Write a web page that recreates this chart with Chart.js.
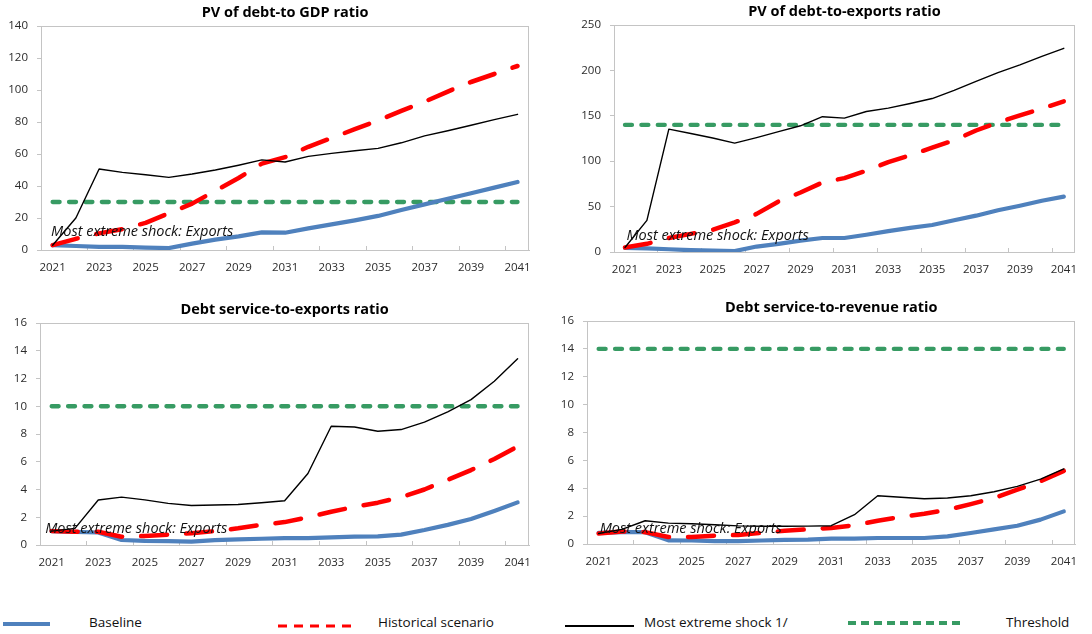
<!DOCTYPE html>
<html>
<head>
<meta charset="utf-8">
<script src="https://cdn.jsdelivr.net/npm/chart.js@4.4.1/dist/chart.umd.min.js"></script>
<style>
  html, body { margin: 0; padding: 0; background: #ffffff; }
  body { width: 1092px; height: 634px; position: relative; overflow: hidden; font-family: "Open Sans", "Noto Sans", sans-serif; }
  canvas { position: absolute; }
  #legend { position: absolute; left: 0; top: 606px; width: 1092px; height: 28px; }
  #legend svg { position: absolute; left: 0; top: 0; }
  #legend span { position: absolute; top: 6px; font-size: 13.5px; line-height: 20px; color: #111; white-space: nowrap; }
</style>
</head>
<body>
<canvas id="pvGdp"></canvas>
<canvas id="pvExports"></canvas>
<canvas id="dsExports"></canvas>
<canvas id="dsRevenue"></canvas>

<div id="legend">
  <svg width="1092" height="28" viewBox="0 0 1092 28">
    <line x1="3" y1="18" x2="50" y2="18" stroke="#4f81bd" stroke-width="4"/>
    <line x1="278" y1="20" x2="351" y2="20" stroke="#ff0000" stroke-width="3" stroke-dasharray="9 7"/>
    <line x1="565" y1="20" x2="634" y2="20" stroke="#000000" stroke-width="2"/>
    <line x1="848" y1="17" x2="960" y2="17" stroke="#379b63" stroke-width="4" stroke-dasharray="8 5"/>
  </svg>
  <span style="left:89px">Baseline</span>
  <span style="left:378px">Historical scenario</span>
  <span style="left:644px">Most extreme shock 1/</span>
  <span style="left:1006px">Threshold</span>
</div>

<script>
// Projection years shared by all four panels
const years = ['2021','2022','2023','2024','2025','2026','2027','2028','2029','2030',
               '2031','2032','2033','2034','2035','2036','2037','2038','2039','2040','2041'];

// PV of debt-to GDP ratio
const gdpBaseline   = [3.0, 2.5, 2.0, 2.0, 1.5, 1.2, 4.0, 6.5, 8.5, 11.0, 10.8, 13.5, 16.0, 18.5, 21.3, 25.0, 28.5, 32.0, 35.5, 39.0, 42.5];
const gdpHistorical = [3.0, 7.0, 10.4, 13.0, 17.0, 23.0, 29.0, 37.0, 45.0, 54.0, 58.0, 64.5, 70.0, 75.5, 81.0, 87.0, 92.7, 99.0, 105.0, 110.0, 115.0];
const gdpShock      = [3.0, 20.0, 50.6, 48.5, 47.0, 45.4, 47.5, 50.0, 53.0, 56.3, 55.0, 58.5, 60.4, 62.0, 63.5, 67.0, 71.3, 74.5, 78.0, 81.5, 84.8];
const gdpThreshold  = 30;

// PV of debt-to-exports ratio
const expBaseline   = [4.5, 4.0, 3.0, 2.0, 1.5, 1.0, 6.0, 9.0, 12.5, 15.4, 15.4, 19.0, 23.0, 26.5, 29.7, 35.0, 40.0, 46.0, 51.0, 56.5, 61.0];
const expHistorical = [5.0, 9.0, 15.4, 20.0, 24.5, 32.6, 42.0, 55.7, 65.5, 76.6, 81.4, 89.5, 99.0, 106.5, 115.0, 123.0, 133.8, 142.6, 150.5, 158.0, 166.0];
const expShock      = [5.0, 34.8, 135.3, 130.5, 125.5, 119.9, 126.0, 132.5, 139.0, 149.0, 147.4, 154.7, 158.5, 163.5, 169.0, 178.0, 188.0, 197.5, 206.0, 215.5, 224.3];
const expThreshold  = 140;

// Debt service-to-exports ratio
const dsxBaseline   = [1.0, 0.95, 0.9, 0.36, 0.3, 0.28, 0.24, 0.35, 0.4, 0.45, 0.5, 0.5, 0.55, 0.6, 0.62, 0.75, 1.08, 1.45, 1.87, 2.45, 3.07];
const dsxHistorical = [1.0, 0.95, 0.95, 0.6, 0.65, 0.75, 0.85, 1.0, 1.2, 1.45, 1.65, 2.0, 2.4, 2.75, 3.05, 3.45, 4.0, 4.7, 5.4, 6.2, 7.1];
const dsxShock      = [1.0, 1.2, 3.24, 3.45, 3.25, 3.0, 2.85, 2.88, 2.92, 3.05, 3.19, 5.15, 8.56, 8.5, 8.2, 8.32, 8.85, 9.6, 10.48, 11.8, 13.43];
const dsxThreshold  = 10;

// Debt service-to-revenue ratio
const dsrBaseline   = [0.8, 0.85, 0.85, 0.26, 0.25, 0.2, 0.2, 0.25, 0.3, 0.32, 0.38, 0.38, 0.43, 0.43, 0.43, 0.55, 0.79, 1.05, 1.31, 1.75, 2.34];
const dsrHistorical = [0.75, 0.9, 0.85, 0.5, 0.5, 0.6, 0.65, 0.8, 0.95, 1.05, 1.15, 1.35, 1.67, 1.95, 2.17, 2.45, 2.86, 3.3, 3.9, 4.5, 5.25];
const dsrShock      = [0.75, 1.05, 1.67, 1.5, 1.45, 1.38, 1.3, 1.27, 1.27, 1.28, 1.31, 2.1, 3.46, 3.35, 3.25, 3.3, 3.46, 3.75, 4.13, 4.65, 5.39];
const dsrThreshold  = 14;

const noteText = 'Most extreme shock: Exports';

const FONT = '"Open Sans", "Noto Sans", sans-serif';
const AXIS_GREY = '#c4c4c4';
const LABEL_COLOUR = '#2b2b2b';
const BLUE = '#4f81bd', RED = '#ff0000', BLACK = '#000000', GREEN = '#379b63';

// Frame, title and shock note drawn on each panel
const panelDecor = {
  id: 'panelDecor',
  beforeDatasetsDraw(chart, args, opts) {
    const { ctx, chartArea: a } = chart;
    ctx.save();
    ctx.strokeStyle = AXIS_GREY;
    ctx.lineWidth = 1;
    ctx.strokeRect(Math.round(a.left) + 0.5, Math.round(a.top) + 0.5,
                   Math.round(a.right - a.left) - 1, Math.round(a.bottom - a.top));
    ctx.restore();
  },
  afterDatasetsDraw(chart, args, opts) {
    const { ctx, chartArea: a, scales } = chart;
    ctx.save();
    ctx.fillStyle = '#000';
    ctx.textAlign = 'center';
    ctx.textBaseline = 'middle';
    ctx.font = 'bold 14.5px ' + FONT;
    ctx.fillText(opts.title, (a.left + a.right) / 2, opts.titleY);
    ctx.fillStyle = '#111';
    ctx.textAlign = 'left';
    ctx.font = 'italic 14.5px ' + FONT;
    ctx.fillText(opts.note, scales.x.getPixelForValue(0) + opts.noteDx, scales.y.getPixelForValue(opts.noteY));
    ctx.restore();
  }
};

function makePanel(id, box, plot, title, titleY, series, threshold, yMax, yStep, noteY, noteDx) {
  const cv = document.getElementById(id);
  cv.width = box.w; cv.height = box.h;
  cv.style.left = box.x + 'px'; cv.style.top = box.y + 'px';
  cv.style.width = box.w + 'px'; cv.style.height = box.h + 'px';

  const line = (data, colour, width, dash, order) => ({
    data, borderColor: colour, backgroundColor: colour, borderWidth: width,
    borderDash: dash, borderCapStyle: 'round', borderJoinStyle: 'round',
    pointRadius: 0, pointHoverRadius: 0, tension: 0, fill: false, order
  });

  new Chart(cv, {
    type: 'line',
    data: {
      labels: years,
      datasets: [
        line(series[2], BLACK, 1.4, [], 0),
        line(series[1], RED, 4.5, [26, 19], 1),
        line(series[0], BLUE, 4.2, [], 2),
        line(years.map(() => threshold), GREEN, 4.3, [7, 9.4], 3)
      ]
    },
    options: {
      responsive: false,
      animation: false,
      events: [],
      layout: { padding: { top: plot.t - box.y, right: box.x + box.w - plot.r, left: 0, bottom: 0 } },
      plugins: {
        legend: { display: false },
        tooltip: { enabled: false },
        title: { display: false },
        panelDecor: { title, titleY: titleY - box.y, note: noteText, noteY, noteDx }
      },
      scales: {
        x: {
          type: 'category',
          offset: true,
          grid: {
            display: true, offset: true, drawOnChartArea: false, drawTicks: true, tickLength: -4,
            color: (c) => (c.index % 2 === 0 ? AXIS_GREY : 'rgba(0,0,0,0)')
          },
          border: { display: true, color: AXIS_GREY },
          ticks: {
            autoSkip: false, maxRotation: 0, minRotation: 0, padding: 15,
            color: LABEL_COLOUR, font: { family: FONT, size: 11.5 },
            callback: (v, i) => (i % 2 === 0 ? years[i] : '')
          },
          afterFit: (s) => { s.height = box.y + box.h - plot.b; }
        },
        y: {
          min: 0, max: yMax,
          grid: { display: true, drawOnChartArea: false, drawTicks: true, tickLength: 4, color: AXIS_GREY },
          border: { display: true, color: AXIS_GREY },
          ticks: { stepSize: yStep, padding: 9, color: LABEL_COLOUR, font: { family: FONT, size: 11.5 } },
          afterFit: (s) => { s.width = plot.l - box.x; }
        }
      }
    },
    plugins: [panelDecor]
  });
}

makePanel('pvGdp', { x: 0, y: 0, w: 546, h: 290 }, { l: 41, r: 533, t: 26, b: 250 },
  'PV of debt-to GDP ratio', 13, [gdpBaseline, gdpHistorical, gdpShock], gdpThreshold, 140, 20, 11.4, -1.5);

makePanel('pvExports', { x: 546, y: 0, w: 546, h: 290 }, { l: 614, r: 1090, t: 25, b: 252 },
  'PV of debt-to-exports ratio', 12, [expBaseline, expHistorical, expShock], expThreshold, 250, 50, 17.6, 1.5);

makePanel('dsExports', { x: 0, y: 290, w: 546, h: 310 }, { l: 40, r: 536, t: 323, b: 545 },
  'Debt service-to-exports ratio', 310, [dsxBaseline, dsxHistorical, dsxShock], dsxThreshold, 16, 2, 1.15, -6.5);

makePanel('dsRevenue', { x: 546, y: 290, w: 546, h: 310 }, { l: 587, r: 1090, t: 321, b: 544 },
  'Debt service-to-revenue ratio', 308, [dsrBaseline, dsrHistorical, dsrShock], dsrThreshold, 16, 2, 1.08, 1);
</script>
</body>
</html>
